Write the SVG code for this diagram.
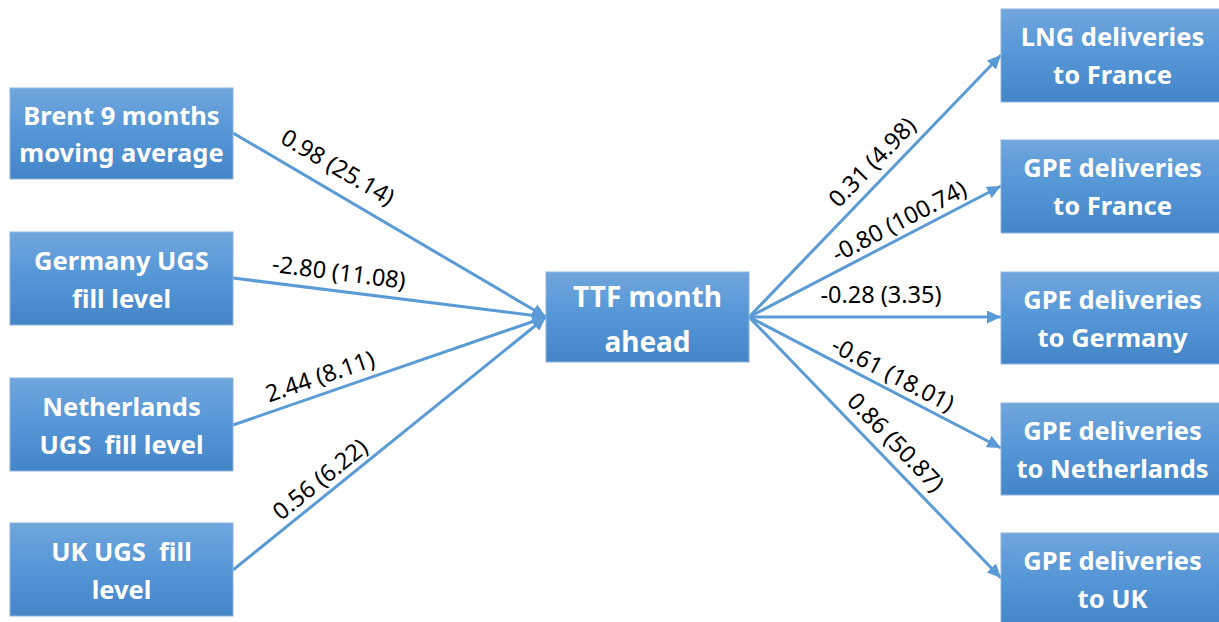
<svg xmlns="http://www.w3.org/2000/svg" width="1219" height="622" viewBox="0 0 1219 622">
<defs>
<linearGradient id="g" x1="0" y1="0" x2="0" y2="1">
<stop offset="0" stop-color="#70a6dd"/>
<stop offset="0.5" stop-color="#5496d6"/>
<stop offset="1" stop-color="#4485c8"/>
</linearGradient>
<marker id="ah" markerUnits="userSpaceOnUse" markerWidth="15" markerHeight="13" refX="14" refY="6.5" orient="auto">
<path d="M0,0 L14,6.5 L0,13 z" fill="#5b9bd5"/>
</marker>
</defs>
<style>
.box{fill:url(#g);stroke:#8db3df;stroke-width:1}
.t{font-family:"Noto Sans","Open Sans",sans-serif;font-weight:bold;font-size:25.5px;fill:#ffffff;text-anchor:middle;white-space:pre}
.big{font-size:28px}
.c{fill:none;stroke:#5b9bd5;stroke-width:3;marker-end:url(#ah)}
.l{font-family:"Noto Sans","Open Sans",sans-serif;font-size:23.5px;fill:#000000;text-anchor:middle}
</style>
<rect width="1219" height="622" fill="#ffffff"/>
<g id="connectors">
<line class="c" x1="233" y1="133" x2="546" y2="317"/>
<line class="c" x1="233" y1="278" x2="546" y2="317"/>
<line class="c" x1="233" y1="425" x2="546" y2="317"/>
<line class="c" x1="233" y1="570" x2="546" y2="317"/>
<line class="c" x1="749" y1="317" x2="1001" y2="55"/>
<line class="c" x1="749" y1="317" x2="1001" y2="186"/>
<line class="c" x1="749" y1="317" x2="1001" y2="317"/>
<line class="c" x1="749" y1="317" x2="1001" y2="448"/>
<line class="c" x1="749" y1="317" x2="1001" y2="578"/>
</g>
<g id="labels">
<text class="l" transform="translate(338,167) rotate(30.4)" dy="0.36em">0.98 (25.14)</text>
<text class="l" transform="translate(339,272) rotate(7.3)" dy="0.36em">-2.80 (11.08)</text>
<text class="l" transform="translate(320,376) rotate(-18.9)" dy="0.36em">2.44 (8.11)</text>
<text class="l" transform="translate(320,479) rotate(-38.8)" dy="0.36em">0.56 (6.22)</text>
<text class="l" transform="translate(872,162) rotate(-46.1)" dy="0.36em">0.31 (4.98)</text>
<text class="l" transform="translate(899,221) rotate(-27.5)" dy="0.36em">-0.80 (100.74)</text>
<text class="l" transform="translate(881,295)" dy="0.36em">-0.28 (3.35)</text>
<text class="l" transform="translate(893,374) rotate(27.5)" dy="0.36em">-0.61 (18.01)</text>
<text class="l" transform="translate(896,442) rotate(46)" dy="0.36em">0.86 (50.87)</text>
</g>
<g id="brent">
<rect class="box" x="10" y="88" width="223" height="91"/>
<text class="t" x="121.5" y="125">Brent 9 months</text>
<text class="t" x="121.5" y="162">moving average</text>
</g>
<g id="germany-ugs">
<rect class="box" x="10" y="232" width="223" height="93"/>
<text class="t" x="121.5" y="270">Germany UGS</text>
<text class="t" x="121.5" y="308">fill level</text>
</g>
<g id="netherlands-ugs">
<rect class="box" x="10" y="378" width="223" height="93"/>
<text class="t" x="121.5" y="416">Netherlands</text>
<text class="t" x="121.5" y="454">UGS  fill level</text>
</g>
<g id="uk-ugs">
<rect class="box" x="10" y="523" width="223" height="93"/>
<text class="t" x="121.5" y="561">UK UGS  fill</text>
<text class="t" x="121.5" y="599">level</text>
</g>
<g id="ttf">
<rect class="box" x="546" y="272" width="203" height="90"/>
<text class="t big" x="647.5" y="307">TTF month</text>
<text class="t big" x="647.5" y="352">ahead</text>
</g>
<g id="lng-france">
<rect class="box" x="1001" y="9" width="223" height="93"/>
<text class="t" x="1112.5" y="46">LNG deliveries</text>
<text class="t" x="1112.5" y="84">to France</text>
</g>
<g id="gpe-france">
<rect class="box" x="1001" y="140" width="223" height="93"/>
<text class="t" x="1112.5" y="177">GPE deliveries</text>
<text class="t" x="1112.5" y="215">to France</text>
</g>
<g id="gpe-germany">
<rect class="box" x="1001" y="272" width="223" height="92"/>
<text class="t" x="1112.5" y="309">GPE deliveries</text>
<text class="t" x="1112.5" y="347">to Germany</text>
</g>
<g id="gpe-netherlands">
<rect class="box" x="1001" y="403" width="223" height="92"/>
<text class="t" x="1112.5" y="440">GPE deliveries</text>
<text class="t" x="1112.5" y="478">to Netherlands</text>
</g>
<g id="gpe-uk">
<rect class="box" x="1001" y="533" width="223" height="93"/>
<text class="t" x="1112.5" y="570">GPE deliveries</text>
<text class="t" x="1112.5" y="608">to UK</text>
</g>
</svg>
